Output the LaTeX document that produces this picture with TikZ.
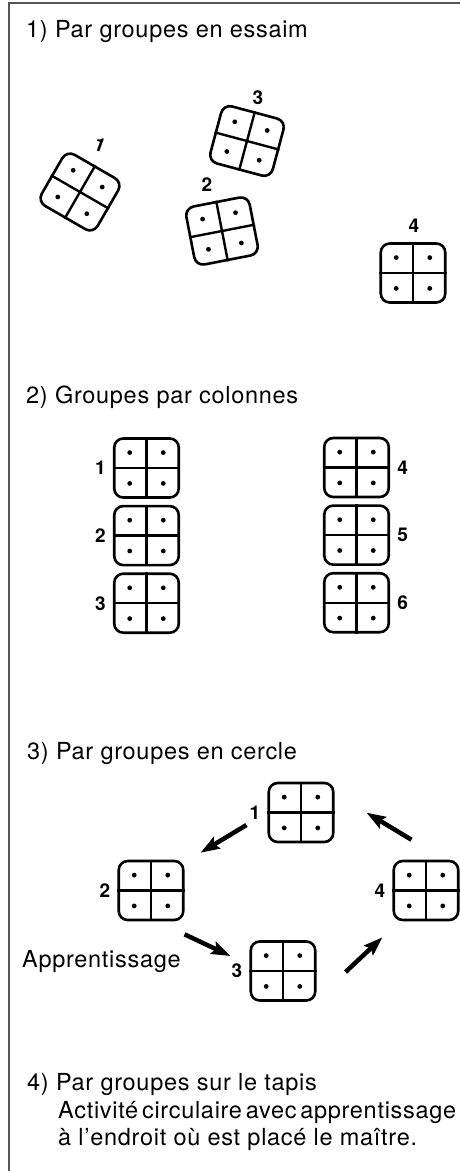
\documentclass[tikz,border=0pt]{standalone}
\usepackage{fontspec}
\setmainfont{TeX Gyre Heros}[LetterSpace=3]
\usetikzlibrary{positioning, calc, arrows.meta}
\definecolor{framegray}{RGB}{85,85,85}

\begin{document}
\begin{tikzpicture}[
        x=1pt, y=-1pt,
        group/.style={rectangle, draw, line width=2.6pt, rounded corners=9pt, minimum width=64.5pt, minimum height=59pt, inner sep=0pt},
        divider/.style={line width=2.4pt},
        num/.style={font=\fontsize{19}{19}\selectfont\bfseries, inner sep=0pt},
        heading/.style={font=\fontsize{23.5}{23.5}\selectfont, inner sep=0pt, anchor=base west},
        flow/.style={line width=4.5pt, -{Stealth[length=19pt, width=13pt, inset=3pt]}}
    ]
        \useasboundingbox (0,0) rectangle (459,1171);
        \draw[framegray, line width=1.5pt] (9,1172) -- (9,3) -- (460,3);

        % 1) essaim
        \node[heading] (T1) at (26,37) {1) Par groupes en essaim};
        \node[group, rotate=-30] (ESS1) at (80,192) {};
        \node[group, rotate=11] (ESS2) at (222,231) {};
        \node[group, rotate=-15] (ESS3) at (247,141) {};
        \node[group] (ESS4) at (413,273) {};
        \node[num, rotate=-20] (NESS1) at (100,145) {1};
        \node[num] (NESS2) at (207,185) {2};
        \node[num] (NESS3) at (258,98) {3};
        \node[num] (NESS4) at (414,226) {4};

        % 2) colonnes
        \node[heading] (T2) at (26,403) {2) Groupes par colonnes};
        \node[group] (COL1) at (146.5,468) {};
        \node[group, below=6pt of COL1] (COL2) {};
        \node[group, below=6pt of COL2] (COL3) {};
        \node[group] (COL4) at (356.5,467.5) {};
        \node[group, below=6pt of COL4] (COL5) {};
        \node[group, below=6pt of COL5] (COL6) {};
        \node[num, left=7pt of COL1] (NCOL1) {1};
        \node[num, left=7pt of COL2] (NCOL2) {2};
        \node[num, left=7pt of COL3] (NCOL3) {3};
        \node[num, right=7pt of COL4] (NCOL4) {4};
        \node[num, right=7pt of COL5] (NCOL5) {5};
        \node[num, right=7pt of COL6] (NCOL6) {6};

        % 3) cercle
        \node[heading] (T3) at (27,759) {3) Par groupes en cercle};
        \node[group] (CER1) at (301,812.5) {};
        \node[group] (CER2) at (151,890.5) {};
        \node[group] (CER3) at (283,971) {};
        \node[group] (CER4) at (426,890.5) {};
        \node[num, left=7pt of CER1] (NCER1) {1};
        \node[num, left=7pt of CER2] (NCER2) {2};
        \node[num, left=7pt of CER3] (NCER3) {3};
        \node[num, left=7pt of CER4] (NCER4) {4};
        \node[heading] (APPR) at (22,967) {Apprentissage};

        \draw[flow] ([shift={(-21,12.5)}]CER1.west) -- ([shift={(16,-7)}]CER2.north east);
        \draw[flow] ([shift={(0,13)}]CER2.south east) -- ([shift={(-19,-15)}]CER3.west);
        \draw[flow] ([shift={(29,1)}]CER3.east) -- ([shift={(-10,16)}]CER4.south west);
        \draw[flow] ([shift={(19,-20)}]CER4.north west) -- ([shift={(32,31)}]CER1.north east);

        % cross and seats of every group
        \foreach \g in {ESS1,ESS2,ESS3,ESS4,COL1,COL2,COL3,COL4,COL5,COL6,CER1,CER2,CER3,CER4} {
            \draw[divider] (\g.north) -- (\g.south) (\g.west) -- (\g.east);
            \foreach \corner in {north west, north east, south west, south east}
                \fill ($(\g.center)!0.5!(\g.\corner)$) circle[radius=2.4pt];
        }

        % 4) tapis
        \node[heading] (T4) at (27,1090) {4) Par groupes sur le tapis};
        \node[heading] (T4A) at (58,1118) {\spaceskip=0.16em Activité circulaire avec apprentissage};
        \node[heading] (T4B) at (58,1145) {à l’endroit où est placé le maître.};
\end{tikzpicture}
\end{document}
